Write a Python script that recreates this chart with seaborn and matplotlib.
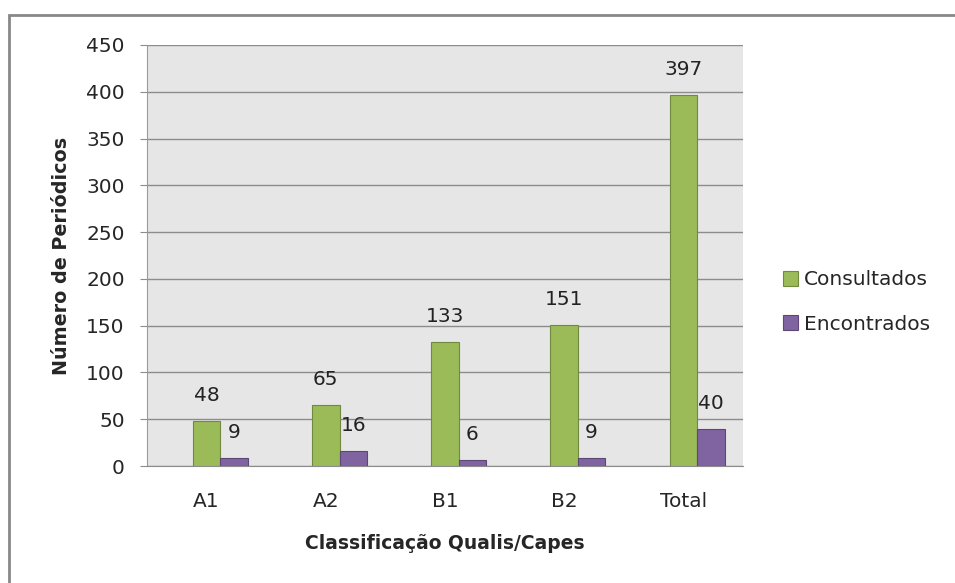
import numpy as np
import pandas as pd
import matplotlib.pyplot as plt
import seaborn as sns
from matplotlib.patches import Rectangle

# Data
categorias = ['A1', 'A2', 'B1', 'B2', 'Total']
consultados = [48, 65, 133, 151, 397]
encontrados = [9, 16, 6, 9, 40]
series = ['Consultados', 'Encontrados']
cores = ['#9BBB59', '#8064A2']
bordas = ['#71893F', '#5C4776']

df = pd.DataFrame({
    'Classificação': categorias * 2,
    'Série': [series[0]] * len(categorias) + [series[1]] * len(categorias),
    'Valor': consultados + encontrados,
})

sns.set_style('white')
plt.rcParams['font.family'] = ['DejaVu Sans']

fig = plt.figure(figsize=(9.55, 5.83), dpi=100)
ax = fig.add_axes([147 / 955, 1 - 466 / 583, (743 - 147) / 955, (466 - 45) / 583])

larg = 0.46
sns.barplot(data=df, x='Classificação', y='Valor', hue='Série', order=categorias,
            hue_order=series, palette=cores, width=larg, saturation=1,
            legend=False, ax=ax, zorder=3)

for cont, borda in zip(ax.containers, bordas):
    for barra in cont:
        barra.set_edgecolor(borda)
        barra.set_linewidth(0.8)
    ax.bar_label(cont, padding=11.5, fontsize=14.5, color='#222222')

# the category label sits under the first series bar
desloc = larg / 4
x = np.arange(len(categorias))
ax.set_xticks(x - desloc)
ax.set_xticklabels(categorias, fontsize=14.5)
ax.set_xlim(-0.5 - desloc, len(categorias) - 0.5 - desloc)

ax.set_ylim(0, 450)
ax.set_yticks(np.arange(0, 451, 50))
ax.tick_params(axis='y', labelsize=14.5, length=5, color='#8C8C8C', pad=11, left=True)
ax.tick_params(axis='x', length=0, pad=19)

ax.set_facecolor('#E6E6E6')
ax.grid(axis='y', color='#8C8C8C', linewidth=1.0, zorder=0)
ax.set_axisbelow(True)
for lado in ['top', 'right']:
    ax.spines[lado].set_visible(False)
ax.spines['left'].set_color('#9A9A9A')
ax.spines['bottom'].set_color('#8C8C8C')

ax.set_xlabel('Classificação Qualis/Capes', fontsize=13.5, fontweight='bold', labelpad=16)
ax.set_ylabel('Número de Periódicos', fontsize=13.8, fontweight='bold', labelpad=11)

# legend to the right of the plot area
alcas = [Rectangle((0, 0), 1, 1, facecolor=c, edgecolor=b, linewidth=0.8)
         for c, b in zip(cores, bordas)]
fig.legend(alcas, series, loc='center left', bbox_to_anchor=(775 / 955, 1 - 302 / 583),
           frameon=False, fontsize=14.5, handlelength=0.75, handleheight=0.75,
           handletextpad=0.3, labelspacing=1.25, borderaxespad=0)

# outer chart frame
fig.patches.append(Rectangle((9 / 955, -0.1), 1.1, 1 - 15 / 583 + 0.1,
                             transform=fig.transFigure, fill=False,
                             edgecolor='#888888', linewidth=2, zorder=10))

fig.savefig('out.png', dpi=100)
